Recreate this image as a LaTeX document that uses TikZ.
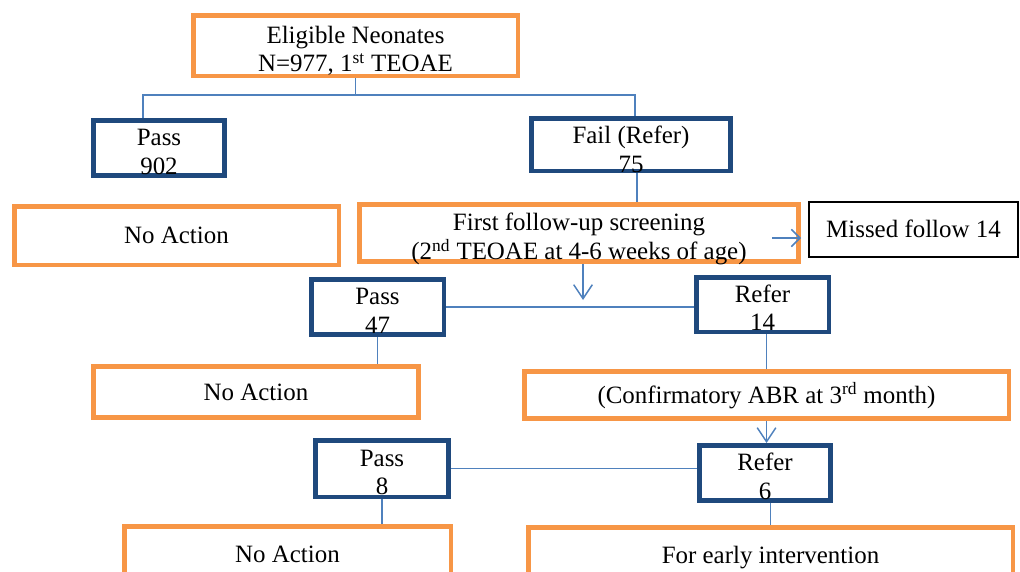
\documentclass[tikz,border=0pt]{standalone}
\usepackage{fontspec}
\setmainfont{Liberation Serif}
\usetikzlibrary{arrows.meta}
\definecolor{boxorange}{RGB}{247,150,70}
\definecolor{boxnavy}{RGB}{31,73,125}
\definecolor{linkblue}{RGB}{79,129,189}
\newcommand{\twolines}[2]{\raisebox{1.75pt}[0pt][0pt]{\begin{tabular}[t]{@{}c@{}}#1\\#2\end{tabular}}}

\begin{document}
\begin{tikzpicture}[x=0.75pt, y=-0.75pt,
  every node/.style={font=\fontsize{18.7}{21.5}\selectfont, inner sep=0pt, align=center},
  orangebox/.style={draw=boxorange, line width=3.4pt},
  navybox/.style={draw=boxnavy, line width=3.4pt},
  plainbox/.style={draw=black, line width=1.5pt},
  oneline/.style={text height=12.5pt, text depth=0pt},
  link/.style={draw=linkblue, line width=1.1pt},
  arr/.style={link, -{Straight Barb[length=10.5pt, width=14pt]}},
  sidearr/.style={link, -{Straight Barb[length=6.5pt, width=13pt]}}]
  \useasboundingbox (0,0) rectangle (1020,571);
  \clip (0,0) rectangle (1020,571);

  \node[orangebox, minimum width=243.4pt, minimum height=45.4pt] (top) at (355.5,45.5)
    {\twolines{Eligible Neonates}{N=977, 1\textsuperscript{st} TEOAE}};
  \node[navybox, minimum width=98.6pt, minimum height=41.6pt] (pass1) at (159,148) {\twolines{Pass}{902}};
  \node[navybox, minimum width=149.6pt, minimum height=39.4pt] (fail1) at (631,144.5) {\raisebox{-2pt}{\twolines{Fail (Refer)}{75}}};
  \node[orangebox, oneline, minimum width=243.4pt, minimum height=43.9pt] (noact1) at (176.5,235.5) {No Action};
  \node[orangebox, minimum width=329.6pt, minimum height=43.1pt] (follow) at (579,233)
    {\twolines{First follow-up screening}{(2\textsuperscript{nd} TEOAE at 4-6 weeks of age)}};
  \node[plainbox, oneline, minimum width=156.8pt, minimum height=41.3pt] (missed) at (913.5,229.5) {Missed follow 14};
  \node[navybox, minimum width=99.4pt, minimum height=41.6pt] (pass2) at (377.5,307) {\twolines{Pass}{47}};
  \node[navybox, minimum width=99.4pt, minimum height=40.9pt] (refer2) at (762.5,304.5) {\twolines{Refer}{14}};
  \node[orangebox, oneline, minimum width=244.1pt, minimum height=38.6pt] (noact2) at (256,392) {No Action};
  \node[orangebox, oneline, minimum width=363.4pt, minimum height=35.6pt] (confirm) at (766.5,395)
    {(Confirmatory ABR at 3\textsuperscript{rd} month)};
  \node[navybox, minimum width=100.1pt, minimum height=42.4pt] (pass3) at (382,468.5) {\twolines{Pass}{8}};
  \node[navybox, minimum width=98.6pt, minimum height=41.6pt] (refer3) at (765,473) {\twolines{Refer}{6}};
  \node[orangebox, oneline, minimum width=244.9pt, minimum height=41.6pt] (noact3) at (287.5,554) {No Action};
  \node[orangebox, oneline, minimum width=363.4pt, minimum height=41.6pt] (early) at (770.5,555) {For early intervention};

  \coordinate (splitl) at (143,95);
  \coordinate (splitr) at (635,95);
  \coordinate (missfrom) at (772,238);
  \coordinate (passtip) at (583,300);

  \draw[link] (top.south) -- (top.south |- splitl);
  \draw[link] (splitl |- pass1.north) -- (splitl) -- (splitr) -- (splitr |- fail1.north);
  \draw[link] ([xshift=4.5pt]fail1.south) -- ([xshift=4.5pt]fail1.south |- follow.north);
  \draw[sidearr] (missfrom) -- (missfrom -| follow.east);
  \draw[arr] (passtip |- follow.south) -- (passtip);
  \draw[link] (pass2.east) -- (pass2.east -| refer2.west);
  \draw[link] (pass2.south) -- (pass2.south |- noact2.north);
  \draw[link] (confirm.north |- refer2.south) -- (confirm.north);
  \draw[arr] (confirm.south) -- (confirm.south |- refer3.north);
  \draw[link] (pass3.east) -- (pass3.east -| refer3.west);
  \draw[link] (pass3.south) -- (pass3.south |- noact3.north);
  \draw[link] (early.north |- refer3.south) -- (early.north);
\end{tikzpicture}
\end{document}
